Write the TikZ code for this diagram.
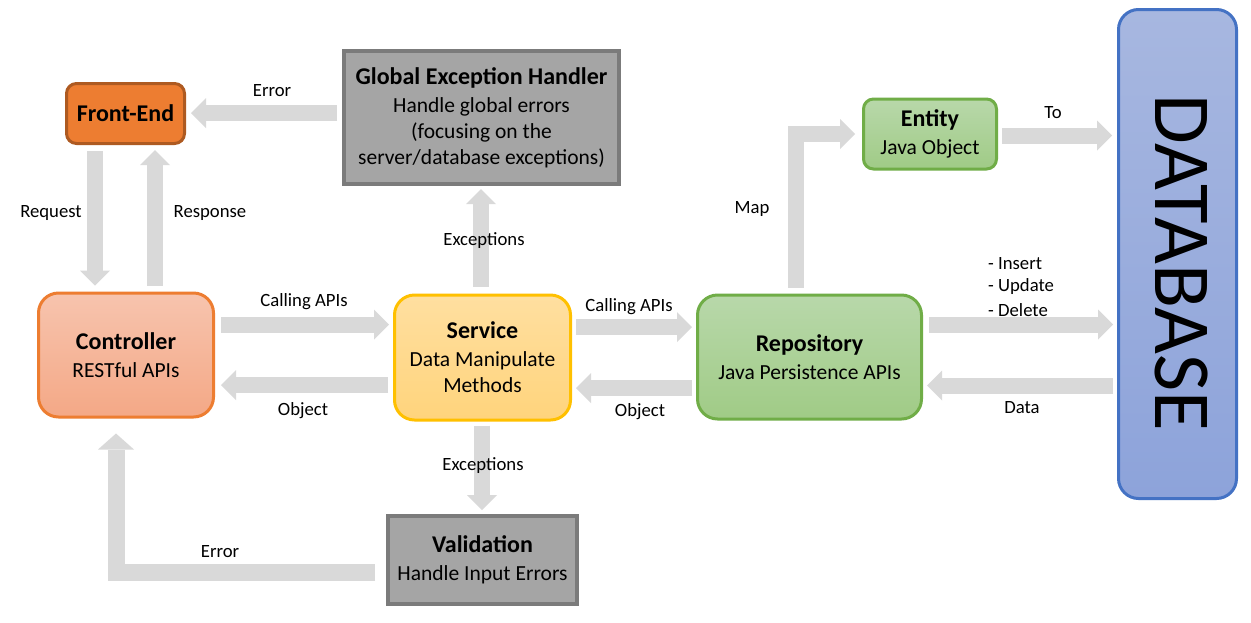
\documentclass[tikz,border=0pt]{standalone}
\usepackage{fontspec}
\setmainfont{Carlito}
\usetikzlibrary{arrows.meta,calc}
\definecolor{arrowgray}{HTML}{D9D9D9}
\definecolor{feFill}{HTML}{ED7D31}
\definecolor{feBorder}{HTML}{AE5A21}
\definecolor{orangeBorder}{HTML}{ED7D31}
\definecolor{ctrlTop}{HTML}{F7C4AE}
\definecolor{ctrlBot}{HTML}{F4A886}
\definecolor{svcTop}{HTML}{FFDFA0}
\definecolor{svcBot}{HTML}{FFD47C}
\definecolor{svcBorder}{HTML}{FFC000}
\definecolor{grnTop}{HTML}{B8D8AA}
\definecolor{grnBot}{HTML}{A0CB86}
\definecolor{grnBorder}{HTML}{70AD47}
\definecolor{grayFill}{HTML}{A5A5A5}
\definecolor{grayBorder}{HTML}{7B7B7B}
\definecolor{dbTop}{HTML}{A7B7E0}
\definecolor{dbBot}{HTML}{8DA3DA}
\definecolor{dbBorder}{HTML}{4472C4}
\newcommand\ttl[1]{{\fontsize{24}{28}\selectfont\bfseries #1}}
\begin{document}
\begin{tikzpicture}[x=1pt,y=-1pt,
  box/.style={draw, line width=3pt, rounded corners=20pt, align=center, inner sep=0pt,
    font=\fontsize{21.5}{26}\selectfont},
  graybox/.style={draw=grayBorder, fill=grayFill, line width=4pt, align=center, inner sep=0pt,
    font=\fontsize{21.5}{26}\selectfont},
  blk/.style={draw=arrowgray, line width=16pt, line join=miter,
    -{Triangle[length=15pt,width=30pt,line width=0pt]}},
  blkbig/.style={draw=arrowgray, line width=17pt, line join=miter,
    -{Triangle[length=16pt,width=36pt,line width=0pt]}},
  lbl/.style={font=\fontsize{18.7}{23}\selectfont, inner sep=0pt, align=left}
]
\useasboundingbox[fill=white] (0,0) rectangle (1251,622);

% nodes
\node[box, rounded corners=10pt, draw=feBorder, fill=feFill, minimum width=118pt, minimum height=60pt]
  (fe) at (125.5,113.5) {\ttl{Front-End}};
\node[graybox, minimum width=275pt, minimum height=133pt]
  (geh) at (481.5,117.5) {\ttl{Global Exception Handler}\\[2pt]Handle global errors\\(focusing on the\\server/database exceptions)};
\node[box, draw=orangeBorder, top color=ctrlTop, bottom color=ctrlBot, minimum width=175pt, minimum height=124pt]
  (ctrl) at (126,355) {\ttl{Controller}\\[2pt]RESTful APIs};
\node[box, draw=svcBorder, top color=svcTop, bottom color=svcBot, minimum width=176pt, minimum height=125pt]
  (svc) at (482.5,357.5) {\ttl{Service}\\[2pt]Data Manipulate\\Methods};
\node[box, draw=grnBorder, top color=grnTop, bottom color=grnBot, minimum width=224pt, minimum height=124pt]
  (repo) at (809.5,357) {\ttl{Repository}\\[2pt]Java Persistence APIs};
\node[box, rounded corners=10pt, draw=grnBorder, top color=grnTop, bottom color=grnBot, minimum width=133pt, minimum height=70pt]
  (ent) at (930,134) {\ttl{Entity}\\[2pt]Java Object};
\node[graybox, minimum width=189pt, minimum height=88pt]
  (val) at (482.5,560) {\ttl{Validation}\\[2pt]Handle Input Errors};
\node[box, draw=dbBorder, top color=dbTop, bottom color=dbBot, minimum width=118pt, minimum height=489pt]
  (db) at (1177.5,254) {};
\node[rotate=-90, font=\fontsize{81}{81}\selectfont, inner sep=0pt] (dbtext) at (1181,263) {DATABASE};

% connectors
\draw[blk] ($(geh.west)+(-5,-4.5)$) -- ($(fe.east)+(5,-0.5)$);
\draw[blk] ($(fe.south)+(-30.5,6)$) -- ($(ctrl.north)+(-31,-6)$);
\draw[blk] ($(ctrl.north)+(29,-6)$) -- ($(fe.south)+(29.5,5)$);
\draw[blk] ($(ctrl.east)+(6,-30.5)$) -- ($(svc.west)+(-4,-33)$);
\draw[blk] ($(svc.west)+(-5,27.5)$) -- ($(ctrl.east)+(6,30)$);
\draw[blk] ($(svc.north)+(-1.5,-7)$) -- ($(geh.south)+(-0.5,3)$);
\draw[blk] ($(svc.south)+(-0.5,4)$) -- ($(val.north)+(-0.5,-4)$);
\draw[blkbig] ($(val.west)+(-11,12.5)$) -| ($(ctrl.south)+(-10,15)$);
\draw[blk] ($(svc.east)+(4,-30.5)$) -- ($(repo.west)+(-4,-30)$);
\draw[blk] ($(repo.west)+(-4,31)$) -- ($(svc.east)+(4,30.5)$);
\draw[blk] ($(repo.north)+(-14,-6)$) |- ($(ent.west)+(-7,0)$);
\draw[blk] ($(ent.east)+(4,1.5)$) -- ($(db.west)+(-5,-118.5)$);
\draw[blk] ($(repo.east)+(6,-32.5)$) -- ($(db.west)+(-4,70.5)$);
\draw[blk] ($(db.west)+(-4,131.5)$) -- ($(repo.east)+(4,28.5)$);

% labels
\node[lbl] (lErr1) at (272,91) {Error};
\node[lbl] (lReq) at (51,213) {Request};
\node[lbl] (lResp) at (210,213) {Response};
\node[lbl] (lCall1) at (304,302) {Calling APIs};
\node[lbl] (lObj1) at (303,411) {Object};
\node[lbl] (lExc1) at (484,241) {Exceptions};
\node[lbl] (lExc2) at (483,466) {Exceptions};
\node[lbl] (lErr2) at (220,552) {Error};
\node[lbl] (lCall2) at (629,307) {Calling APIs};
\node[lbl] (lObj2) at (640,412) {Object};
\node[lbl] (lMap) at (752,209) {Map};
\node[lbl] (lTo) at (1053,113) {To};
\node[lbl, anchor=west] (lIns) at (988,264) {- Insert};
\node[lbl, anchor=west] (lUpd) at (988,287) {- Update};
\node[lbl, anchor=west] (lDel) at (988,310) {- Delete};
\node[lbl] (lData) at (1022,408) {Data};
\end{tikzpicture}
\end{document}
